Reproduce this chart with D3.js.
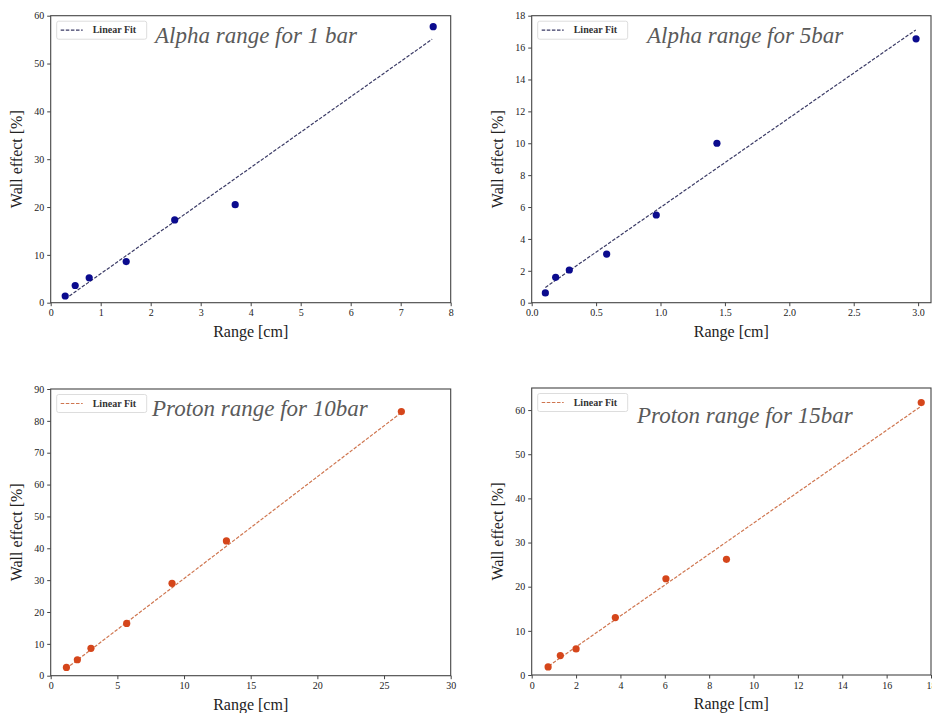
<!DOCTYPE html>
<html>
<head>
<meta charset="utf-8">
<script src="https://cdn.jsdelivr.net/npm/d3@7"></script>
<style>
  body { margin: 0; background: #fff; }
  svg { display: block; }
</style>
</head>
<body>
<div id="chart"></div>
<script>
// values
const alpha1Range = [0.29, 0.49, 0.77, 1.51, 2.48, 3.69, 7.65];
const alpha1Wall  = [1.4, 3.6, 5.2, 8.6, 17.3, 20.5, 57.7];
const alpha1FitRange = [0.29, 7.63];
const alpha1FitWall  = [0.8, 55.1];

const alpha5Range = [0.106, 0.186, 0.292, 0.582, 0.967, 1.438, 2.984];
const alpha5Wall  = [0.61, 1.59, 2.05, 3.05, 5.5, 10.0, 16.55];
const alpha5FitRange = [0.106, 2.982];
const alpha5FitWall  = [0.96, 17.11];

const proton10Range = [1.18, 2.0, 3.02, 5.7, 9.1, 13.18, 26.3];
const proton10Wall  = [2.6, 5.0, 8.6, 16.4, 29.0, 42.3, 82.9];
const proton10FitRange = [1.15, 26.3];
const proton10FitWall  = [2.2, 82.6];

const proton15Range = [0.74, 1.29, 2.0, 3.77, 6.05, 8.78, 17.56];
const proton15Wall  = [1.82, 4.39, 5.9, 13.0, 21.8, 26.2, 61.7];
const proton15FitRange = [0.77, 17.53];
const proton15FitWall  = [2.05, 60.8];

const titles = ["Alpha range for 1 bar", "Alpha range for 5bar", "Proton range for 10bar", "Proton range for 15bar"];
const xTicks1 = [0, 1, 2, 3, 4, 5, 6, 7, 8];
const yTicks1 = [0, 10, 20, 30, 40, 50, 60];
const xTicks2 = [0, 0.5, 1.0, 1.5, 2.0, 2.5, 3.0];
const yTicks2 = [0, 2, 4, 6, 8, 10, 12, 14, 16, 18];
const xTicks3 = [0, 5, 10, 15, 20, 25, 30];
const yTicks3 = [0, 10, 20, 30, 40, 50, 60, 70, 80, 90];
const xTicks4 = [0, 2, 4, 6, 8, 10, 12, 14, 16, 18];
const yTicks4 = [0, 10, 20, 30, 40, 50, 60];

const W = 932, H = 713;
const SERIF = "'Liberation Serif', 'Times New Roman', Times, serif";
const svg = d3.select("#chart").append("svg").attr("width", W).attr("height", H)
  .style("font-family", SERIF);

const blue = "#0b0b8e", blueFit = "#3b3b66";
const orange = "#d5461b", orangeFit = "#cf7650";

const panels = [
  {range: alpha1Range, wall: alpha1Wall, fitR: alpha1FitRange, fitW: alpha1FitWall,
   xDom: [0, 8], yDom: [0, 60], xT: xTicks1, yT: yTicks1, xFmt: d3.format("d"),
   box: [50.7, 15.7, 450.7, 302.7], col: blue, fitCol: blueFit, title: titles[0], tx: 155, ty: 43, ylx: 22},
  {range: alpha5Range, wall: alpha5Wall, fitR: alpha5FitRange, fitW: alpha5FitWall,
   xDom: [0, 3.1], yDom: [0, 18], xT: xTicks2, yT: yTicks2, xFmt: d3.format(".1f"),
   box: [531.7, 15.7, 931, 302.7], col: blue, fitCol: blueFit, title: titles[1], tx: 647, ty: 43, ylx: 503},
  {range: proton10Range, wall: proton10Wall, fitR: proton10FitRange, fitW: proton10FitWall,
   xDom: [0, 30], yDom: [0, 90], xT: xTicks3, yT: yTicks3, xFmt: d3.format("d"),
   box: [50.7, 389, 450.7, 675.7], col: orange, fitCol: orangeFit, title: titles[2], tx: 152, ty: 416, ylx: 22},
  {range: proton15Range, wall: proton15Wall, fitR: proton15FitRange, fitW: proton15FitWall,
   xDom: [0, 18], yDom: [0, 65], xT: xTicks4, yT: yTicks4, xFmt: d3.format("d"),
   box: [531.7, 388, 931, 675], col: orange, fitCol: orangeFit, title: titles[3], tx: 637, ty: 423, ylx: 503}
];

panels.forEach(function(p){
  const [x0, y0, x1, y1] = p.box;
  const x = d3.scaleLinear().domain(p.xDom).range([x0, x1]);
  const y = d3.scaleLinear().domain(p.yDom).range([y1, y0]);
  const g = svg.append("g");

  // frame
  g.append("rect")
    .attr("x", x0).attr("y", y0).attr("width", x1 - x0).attr("height", y1 - y0)
    .attr("fill", "none").attr("stroke", "#444").attr("stroke-width", 1.1);

  // axes
  const xa = g.append("g").attr("transform", "translate(0," + y1 + ")")
    .call(d3.axisBottom(x).tickValues(p.xT).tickFormat(p.xFmt).tickSize(3.5).tickPadding(3));
  const ya = g.append("g").attr("transform", "translate(" + x0 + ",0)")
    .call(d3.axisLeft(y).tickValues(p.yT).tickFormat(d3.format("d")).tickSize(3.5).tickPadding(3));
  [xa, ya].forEach(function(a){
    a.attr("font-family", SERIF).attr("font-size", 10);
    a.select(".domain").remove();
    a.selectAll(".tick line").attr("stroke", "#444");
    a.selectAll(".tick text").attr("fill", "#222");
  });

  // axis labels
  g.append("text")
    .attr("x", (x0 + Math.min(x1, 931)) / 2).attr("y", y1 + 34)
    .attr("text-anchor", "middle")
    .attr("font-family", SERIF).attr("font-size", 16).attr("fill", "#222")
    .text("Range [cm]");
  g.append("text")
    .attr("transform", "translate(" + p.ylx + "," + ((y0 + y1) / 2) + ") rotate(-90)")
    .attr("text-anchor", "middle")
    .attr("font-family", SERIF).attr("font-size", 16).attr("fill", "#222")
    .text("Wall effect [%]");

  // fit line
  const fitPts = p.fitR.map(function(r, i){ return [r, p.fitW[i]]; });
  g.append("path")
    .datum(fitPts)
    .attr("d", d3.line().x(function(d){ return x(d[0]); }).y(function(d){ return y(d[1]); }))
    .attr("fill", "none").attr("stroke", p.fitCol).attr("stroke-width", 1.2)
    .attr("stroke-dasharray", "3.5,1.6");

  // points
  g.selectAll("circle.pt")
    .data(p.range.map(function(r, i){ return [r, p.wall[i]]; }))
    .enter().append("circle")
    .attr("class", "pt")
    .attr("cx", function(d){ return x(d[0]); })
    .attr("cy", function(d){ return y(d[1]); })
    .attr("r", 3.6)
    .attr("fill", p.col);

  // legend
  const lx = x0 + 6, ly = y0 + 5.5;
  g.append("rect")
    .attr("x", lx).attr("y", ly).attr("width", 90).attr("height", 18).attr("rx", 2)
    .attr("fill", "#fff").attr("stroke", "#ddd").attr("stroke-width", 1);
  g.append("line")
    .attr("x1", lx + 4).attr("x2", lx + 26).attr("y1", ly + 9).attr("y2", ly + 9)
    .attr("stroke", p.fitCol).attr("stroke-width", 1.2).attr("stroke-dasharray", "3.5,1.6");
  g.append("text")
    .attr("x", lx + 36).attr("y", ly + 12)
    .attr("font-family", SERIF).attr("font-size", 10).attr("font-weight", "bold").attr("fill", "#333")
    .text("Linear Fit");

  // title
  g.append("text")
    .attr("x", p.tx).attr("y", p.ty)
    .attr("font-family", SERIF).attr("font-style", "italic")
    .attr("font-size", 23).attr("fill", "#5a5a5a")
    .text(p.title);
});
</script>
</body>
</html>
